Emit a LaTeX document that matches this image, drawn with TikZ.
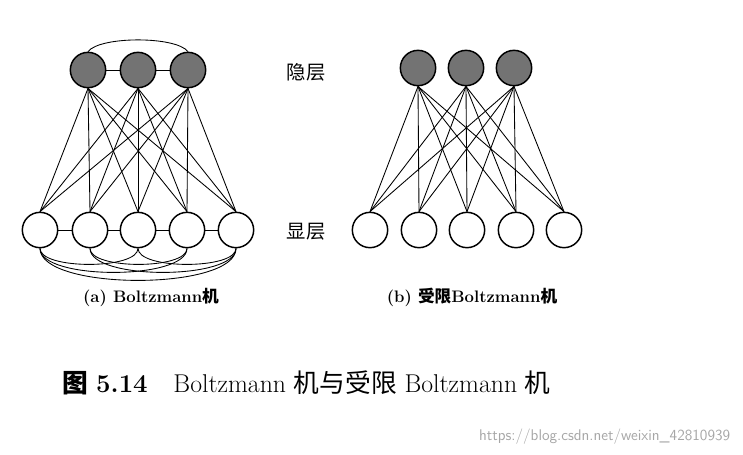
\documentclass[tikz,border=0pt]{standalone}
\usepackage{fontspec}
\newfontfamily\cjk{Noto Sans CJK SC}
\begin{document}
\begin{tikzpicture}[x=0.75pt,y=-0.75pt,
  hid/.style={circle,draw,line width=1.1pt,fill=black!55,minimum size=26.5pt,inner sep=0pt},
  vis/.style={circle,draw,line width=1.1pt,fill=white,minimum size=26.5pt,inner sep=0pt},
  edge/.style={line width=0.65pt}]
\useasboundingbox (0,0) rectangle (743,454);
% left
\foreach \i/\x in {1/88,2/138,3/188} \node[hid] (h\i) at (\x,70) {};
\foreach \i/\x in {1/40,2/90,3/138,4/187,5/236} \node[vis] (v\i) at (\x,230) {};
\foreach \i in {1,2,3} \foreach \j in {1,...,5} \draw[edge] (h\i.south) -- (v\j.north);
\draw[edge] (h1) -- (h2) (h2) -- (h3);
\draw[edge] (h1.north) .. controls (100,36) and (176,36) .. (h3.north);
\foreach \i/\j in {1/2,2/3,3/4,4/5} \draw[edge] (v\i) -- (v\j);
\foreach \i/\j/\d in {1/3/16,2/4/16,3/5/16,1/4/24,2/5/24,1/5/32}
  \draw[edge] (v\i.south) .. controls ([yshift=-\d pt]v\i.south) and ([yshift=-\d pt]v\j.south) .. (v\j.south);
% right
\foreach \i/\x in {1/418,2/466,3/514} \node[hid] (rh\i) at (\x,68) {};
\foreach \i/\x in {1/370,2/419,3/467,4/516,5/564} \node[vis] (rv\i) at (\x,230) {};
\foreach \i in {1,2,3} \foreach \j in {1,...,5} \draw[edge] (rh\i.south) -- (rv\j.north);
% labels
\node[font=\cjk\fontsize{14.5}{17}\selectfont] (lh) at (306,72) {隐层};
\node[font=\cjk\fontsize{14.5}{17}\selectfont] (lv) at (306,232) {显层};
\node[font=\bfseries\fontsize{12.5}{16}\selectfont] (ca) at (151,297) {(a) Boltzmann{\cjk 机}};
\node[font=\bfseries\fontsize{12.5}{16}\selectfont] (cb) at (472,297) {(b) {\cjk 受限}Boltzmann{\cjk 机}};
\node[font=\fontsize{19.3}{22}\selectfont,anchor=west] (cap) at (58,383) {{\cjk\bfseries 图} \textbf{5.14}\quad Boltzmann {\cjk 机与受限} Boltzmann {\cjk 机}};
\node[font=\sffamily\fontsize{11.6}{14}\selectfont,text=gray!70,anchor=east] (wm) at (735,437) {https://blog.csdn.net/weixin\_42810939};
\end{tikzpicture}
\end{document}
